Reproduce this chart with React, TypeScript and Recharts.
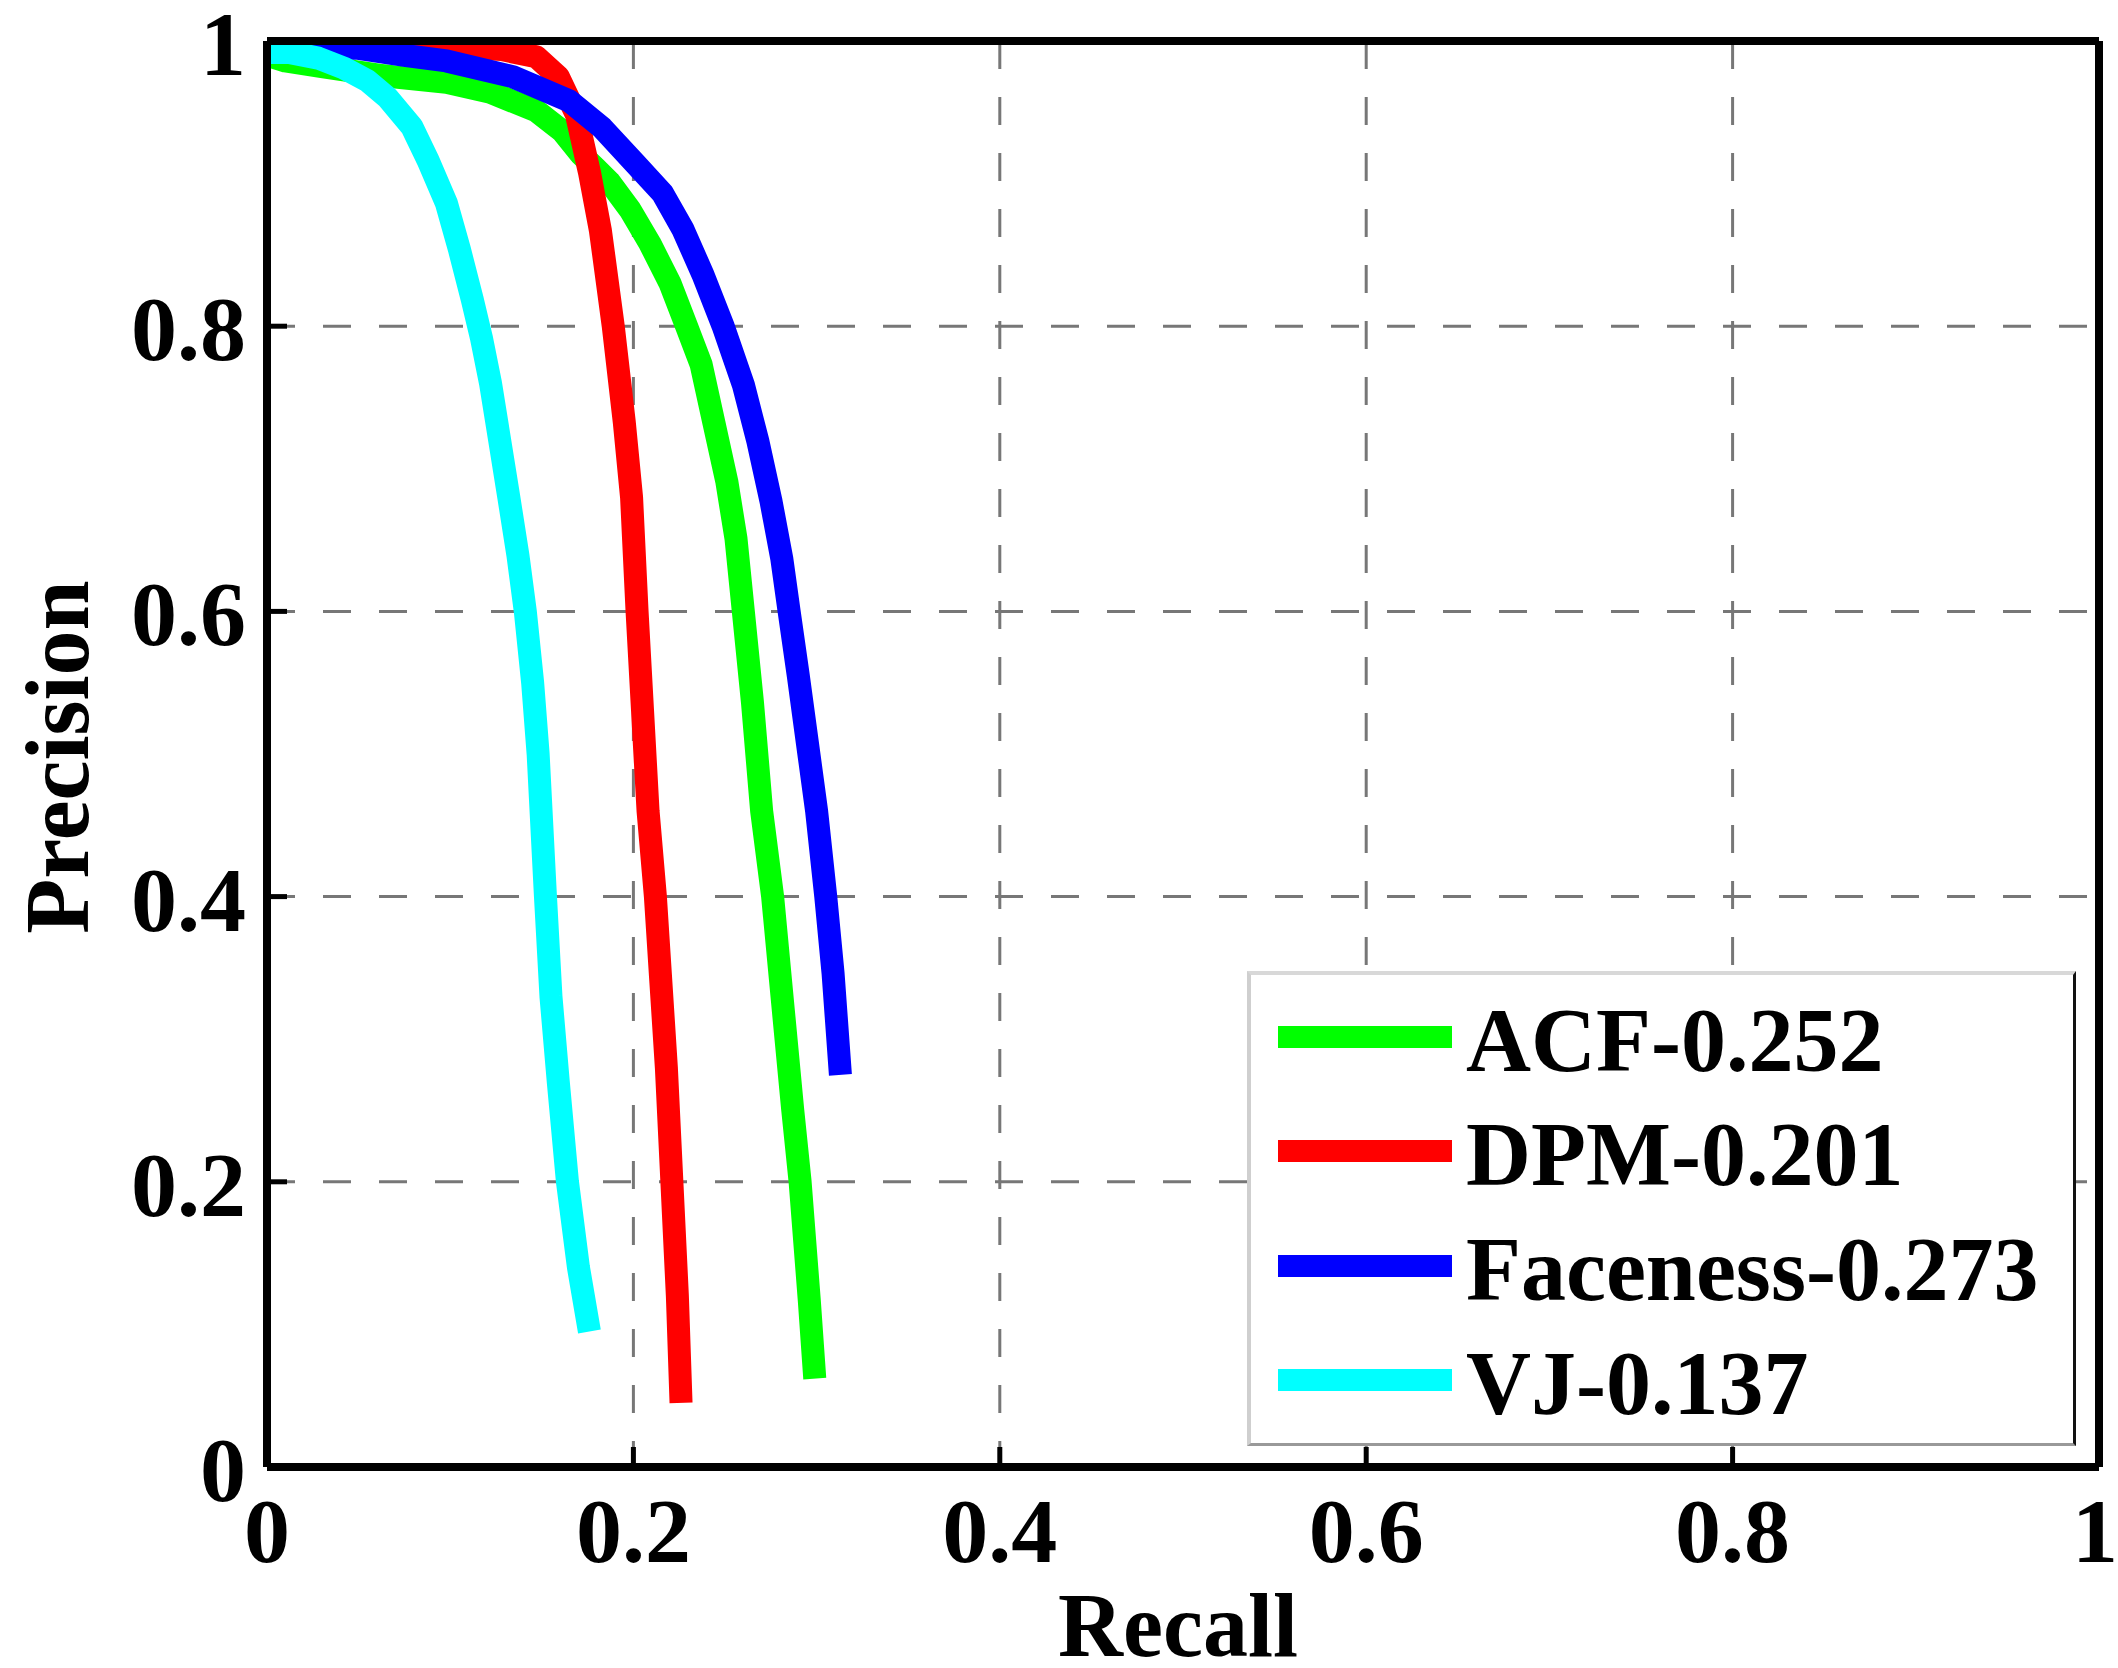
import { LineChart, Line, XAxis, YAxis, CartesianGrid, Legend } from 'recharts'

const FONT = '"Liberation Serif", "Times New Roman", serif'

// axis ticks (both axes run 0..1)
const axisTicks = [0, 0.2, 0.4, 0.6, 0.8, 1]

// ACF (green)
const acfRecall = [0, 0.01, 0.03, 0.061, 0.098, 0.122, 0.147, 0.161, 0.171, 0.18, 0.187, 0.198, 0.209, 0.22, 0.229, 0.237, 0.244, 0.251, 0.256, 0.26, 0.265, 0.27, 0.276, 0.282, 0.287, 0.291, 0.296, 0.299]
const acfPrecision = [0.99, 0.986, 0.982, 0.976, 0.971, 0.964, 0.951, 0.937, 0.921, 0.91, 0.901, 0.882, 0.858, 0.83, 0.8, 0.773, 0.732, 0.691, 0.651, 0.6, 0.536, 0.46, 0.4, 0.318, 0.25, 0.2, 0.117, 0.062]

// DPM (red)
const dpmRecall = [0, 0.05, 0.1, 0.128, 0.147, 0.159, 0.169, 0.176, 0.182, 0.189, 0.195, 0.199, 0.202, 0.205, 0.208, 0.212, 0.215, 0.218, 0.221, 0.224, 0.226]
const dpmPrecision = [0.997, 0.997, 0.996, 0.994, 0.989, 0.975, 0.948, 0.908, 0.867, 0.8, 0.733, 0.68, 0.6, 0.53, 0.46, 0.4, 0.34, 0.28, 0.2, 0.12, 0.045]

// Faceness (blue)
const facenessRecall = [0, 0.03, 0.049, 0.075, 0.098, 0.134, 0.165, 0.183, 0.201, 0.216, 0.227, 0.238, 0.249, 0.26, 0.268, 0.275, 0.281, 0.285, 0.29, 0.296, 0.3, 0.305, 0.309, 0.313]
const facenessPrecision = [0.995, 0.995, 0.995, 0.99, 0.986, 0.975, 0.958, 0.939, 0.914, 0.893, 0.868, 0.836, 0.8, 0.759, 0.719, 0.678, 0.637, 0.6, 0.555, 0.498, 0.46, 0.4, 0.346, 0.275]

// VJ (cyan)
const vjRecall = [0, 0.012, 0.028, 0.042, 0.055, 0.066, 0.079, 0.088, 0.098, 0.105, 0.112, 0.117, 0.122, 0.127, 0.132, 0.137, 0.141, 0.145, 0.148, 0.15, 0.152, 0.155, 0.159, 0.164, 0.17, 0.176]
const vjPrecision = [0.992, 0.992, 0.988, 0.981, 0.972, 0.96, 0.94, 0.916, 0.886, 0.854, 0.819, 0.792, 0.76, 0.72, 0.68, 0.639, 0.6, 0.55, 0.5, 0.45, 0.4, 0.33, 0.27, 0.2, 0.14, 0.095]

const seriesNames = ['ACF-0.252', 'DPM-0.201', 'Faceness-0.273', 'VJ-0.137']
const seriesColors = ['#00ff00', '#ff0000', '#0000ff', '#00ffff']

function toPoints(recall: number[], precision: number[]) {
  return recall.map((r, i) => ({ r, p: precision[i] }))
}

const series = [
  toPoints(acfRecall, acfPrecision),
  toPoints(dpmRecall, dpmPrecision),
  toPoints(facenessRecall, facenessPrecision),
  toPoints(vjRecall, vjPrecision),
]

// ticks point inward, like matlab
function BottomTick({ x, y, payload }: any) {
  // last label sits right at the page edge, pull it in a touch
  const tx = payload.value === 1 ? x - 4 : x
  return (
    <g>
      <line x1={x} y1={y} x2={x} y2={y - 20} stroke="#000" strokeWidth={5} />
      <text x={tx} y={y + 95} textAnchor="middle" fontFamily={FONT} fontWeight="bold" fontSize={92} fill="#000">
        {String(payload.value)}
      </text>
    </g>
  )
}

function LeftTick({ x, y, payload }: any) {
  return (
    <g>
      <line x1={x} y1={y} x2={x + 20} y2={y} stroke="#000" strokeWidth={5} />
      <text x={x - 21} y={y + 34} textAnchor="end" fontFamily={FONT} fontWeight="bold" fontSize={92} fill="#000">
        {String(payload.value)}
      </text>
    </g>
  )
}

function TopTick({ x, y }: any) {
  return <line x1={x} y1={y} x2={x} y2={y + 20} stroke="#000" strokeWidth={5} />
}

function RightTick({ x, y }: any) {
  return <line x1={x} y1={y} x2={x - 20} y2={y} stroke="#000" strokeWidth={5} />
}

function renderLegend(props: any) {
  const { payload } = props
  return (
    <div
      style={{
        boxSizing: 'border-box',
        width: 829,
        height: 475,
        background: '#fff',
        borderTop: '4px solid #d8d8d8',
        borderLeft: '4px solid #cfcfcf',
        borderRight: '3px solid #111',
        borderBottom: '3px solid #999',
        paddingTop: 5,
      }}
    >
      {(payload || []).map((entry: any) => (
        <div key={entry.value} style={{ display: 'flex', alignItems: 'center', height: 114.3 }}>
          <span style={{ display: 'inline-block', width: 174, height: 22, marginLeft: 27, background: entry.color }} />
          <span
            style={{
              position: 'relative',
              top: 4,
              marginLeft: 14,
              fontFamily: FONT,
              fontWeight: 'bold',
              fontSize: 90,
              lineHeight: '114px',
              color: '#000',
              whiteSpace: 'nowrap',
            }}
          >
            {entry.value}
          </span>
        </div>
      ))}
    </div>
  )
}

export default function App() {
  return (
    <div style={{ position: 'absolute', left: 0, top: 0, width: 2118, height: 1668, background: '#fff' }}>
      <LineChart width={2118} height={1668} margin={{ top: 40, right: 18, bottom: 0, left: 0 }}>
        <CartesianGrid stroke="#777" strokeWidth={3} strokeDasharray="28 28" />
        {series.map((data, i) => (
          <Line
            key={seriesNames[i]}
            data={data}
            dataKey="p"
            name={seriesNames[i]}
            type="linear"
            stroke={seriesColors[i]}
            strokeWidth={23}
            strokeLinejoin="round"
            dot={false}
            activeDot={false}
            isAnimationActive={false}
          />
        ))}
        <XAxis
          dataKey="r"
          type="number"
          domain={[0, 1]}
          ticks={axisTicks}
          allowDataOverflow
          height={201}
          axisLine={{ stroke: '#000', strokeWidth: 8 }}
          tickLine={false}
          tickSize={0}
          tickMargin={0}
          tick={<BottomTick />}
          interval={0}
          label={{
            content: ({ viewBox }: any) => (
              <text
                x={viewBox.x + viewBox.width / 2 - 5}
                y={viewBox.y + 189}
                textAnchor="middle"
                fontFamily={FONT}
                fontWeight="bold"
                fontSize={90}
                fill="#000"
              >
                Recall
              </text>
            ),
          }}
        />
        <XAxis
          xAxisId="top"
          orientation="top"
          dataKey="r"
          type="number"
          domain={[0, 1]}
          ticks={axisTicks}
          height={1}
          axisLine={{ stroke: '#000', strokeWidth: 8 }}
          tickLine={false}
          tickSize={0}
          tickMargin={0}
          tick={<TopTick />}
          interval={0}
        />
        <YAxis
          type="number"
          domain={[0, 1]}
          ticks={axisTicks}
          allowDataOverflow
          width={267}
          axisLine={{ stroke: '#000', strokeWidth: 8 }}
          tickLine={false}
          tickSize={0}
          tickMargin={0}
          tick={<LeftTick />}
          interval={0}
          label={{
            content: ({ viewBox }: any) => {
              const cx = viewBox.x + 88
              const cy = viewBox.y + viewBox.height / 2 + 3
              return (
                <text
                  x={cx}
                  y={cy}
                  transform={`rotate(-90 ${cx} ${cy})`}
                  textAnchor="middle"
                  fontFamily={FONT}
                  fontWeight="bold"
                  fontSize={90}
                  fill="#000"
                >
                  Precision
                </text>
              )
            },
          }}
        />
        <YAxis
          yAxisId="right"
          orientation="right"
          type="number"
          domain={[0, 1]}
          ticks={axisTicks}
          width={1}
          axisLine={{ stroke: '#000', strokeWidth: 8 }}
          tickLine={false}
          tickSize={0}
          tickMargin={0}
          tick={<RightTick />}
          interval={0}
        />
        <Legend
          layout="vertical"
          align="center"
          verticalAlign="middle"
          content={renderLegend}
          wrapperStyle={{ left: 1247, top: 971, width: 829, height: 475 }}
        />
      </LineChart>
    </div>
  )
}
